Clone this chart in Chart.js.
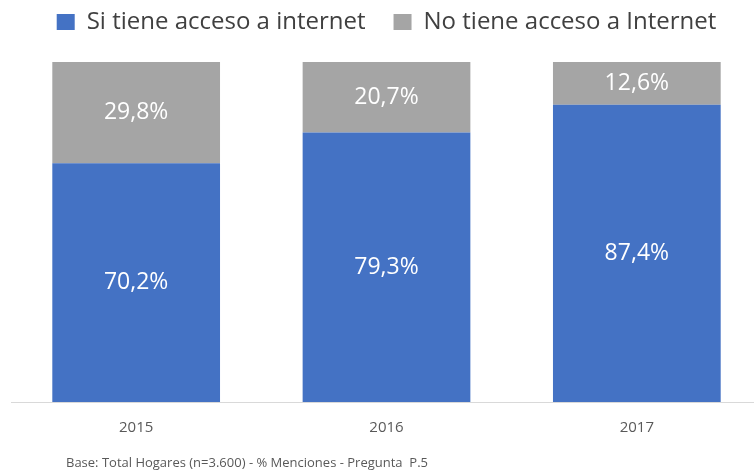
<!DOCTYPE html>
<html>
<head>
<meta charset="utf-8">
<script src="https://cdn.jsdelivr.net/npm/chart.js@4"></script>
<style>
  html, body { margin: 0; padding: 0; background: #fff; overflow: hidden; }
  #wrap { position: absolute; left: 0; top: 0; width: 770px; height: 472px; }
</style>
</head>
<body>
<div id="wrap"><canvas id="myChart"></canvas></div>
<script>
const years = ['2015', '2016', '2017'];
const conAcceso = [70.2, 79.3, 87.4];
const sinAcceso = [29.8, 20.7, 12.6];
const seriesNames = ['Si tiene acceso a internet', 'No tiene acceso a Internet'];
const footText = 'Base: Total Hogares (n=3.600) - % Menciones - Pregunta  P.5';

const ctx = document.getElementById('myChart');
const fam = 'Open Sans';

// writes the percentage in the middle of each segment
const segmentLabels = {
  id: 'segmentLabels',
  afterDatasetsDraw(chart) {
    const c = chart.ctx;
    c.save();
    c.fillStyle = '#ffffff';
    c.font = '23px ' + fam;
    c.textAlign = 'center';
    c.textBaseline = 'middle';
    chart.data.datasets.forEach((ds, i) => {
      chart.getDatasetMeta(i).data.forEach((bar, j) => {
        const txt = ds.data[j].toFixed(1).replace('.', ',') + '%';
        c.fillText(txt, bar.x, (bar.y + bar.base) / 2);
      });
    });
    c.restore();
  }
};

const footNote = {
  id: 'footNote',
  afterDraw(chart) {
    const c = chart.ctx;
    c.save();
    c.fillStyle = '#595959';
    c.font = '13px ' + fam;
    c.textAlign = 'left';
    c.textBaseline = 'middle';
    c.fillText(footText, 66, 463);
    c.restore();
  }
};

// more room under the legend
const legendGap = {
  id: 'legendGap',
  beforeInit(chart) {
    const fit = chart.legend.fit;
    chart.legend.fit = function () {
      fit.bind(chart.legend)();
      this.height += 18;
    };
  }
};

let chart = new Chart(ctx, {
  type: 'bar',
  data: {
    labels: years,
    datasets: [
      { label: seriesNames[0], data: conAcceso, backgroundColor: '#4472C4' },
      { label: seriesNames[1], data: sinAcceso, backgroundColor: '#A5A5A5' }
    ]
  },
  options: {
    responsive: true,
    maintainAspectRatio: false,
    animation: false,
    barPercentage: 0.67,
    categoryPercentage: 1,
    layout: { padding: { left: 11, right: 8, top: -18, bottom: 26 } },
    plugins: {
      legend: {
        position: 'top',
        labels: {
          color: '#404040',
          font: { family: fam, size: 24 },
          boxWidth: 18,
          boxHeight: 16,
          padding: 28
        }
      },
      tooltip: { enabled: false }
    },
    scales: {
      x: {
        stacked: true,
        grid: { display: false },
        border: { display: true, color: '#d9d9d9', width: 1 },
        ticks: { color: '#595959', font: { family: fam, size: 15 }, padding: 9 }
      },
      y: {
        stacked: true,
        display: false,
        min: 0,
        max: 100
      }
    }
  },
  plugins: [segmentLabels, footNote, legendGap]
});
</script>
</body>
</html>
